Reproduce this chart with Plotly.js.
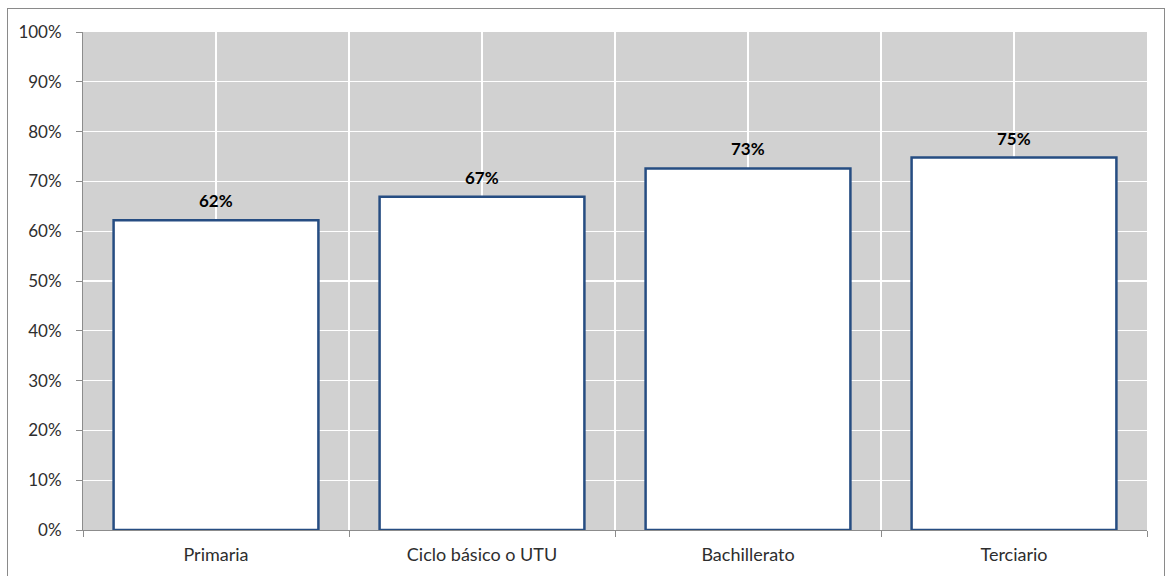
<!DOCTYPE html>
<html>
<head>
<meta charset="utf-8">
<script src="https://cdn.plot.ly/plotly-3.0.1.min.js"></script>
<style>
  html, body { margin: 0; padding: 0; background: #ffffff; }
  #wrap { position: relative; width: 1168px; height: 576px; }
  #chart { width: 1168px; height: 576px; }
  #frame {
    position: absolute; left: 7px; top: 8px; width: 1158px; height: 580px;
    border: 1px solid #8a8a8a; box-sizing: border-box; pointer-events: none;
  }
</style>
</head>
<body>
<div id="wrap">
  <div id="chart"></div>
  <div id="frame"></div>
</div>
<script>
// Share of each education level (as a fraction)
const levels = ['Primaria', 'Ciclo básico o UTU', 'Bachillerato', 'Terciario'];
const shares = [0.622, 0.669, 0.726, 0.748];
const yTickVals = [0, 0.1, 0.2, 0.3, 0.4, 0.5, 0.6, 0.7, 0.8, 0.9, 1.0];

const FONT = 'Lato, "Open Sans", sans-serif';
const AXIS_GRAY = '#8c8c8c';
const TEXT_GRAY = '#2e2e2e';

const bars = {
  type: 'bar',
  x: levels,
  y: shares,
  marker: { color: '#ffffff', line: { color: '#264d82', width: 2.5 } },
  hoverinfo: 'skip',
  showlegend: false
};

// invisible trace that carries the second category axis (gridlines at category centres)
const centreGrid = {
  type: 'scatter',
  mode: 'markers',
  x: levels,
  y: shares,
  xaxis: 'x2',
  yaxis: 'y',
  marker: { opacity: 0 },
  hoverinfo: 'skip',
  showlegend: false
};

// value labels above each bar
const labels = levels.map((lv, i) => ({
  x: lv,
  y: shares[i],
  xref: 'x',
  yref: 'y',
  text: Math.round(shares[i] * 100) + '%',
  showarrow: false,
  yanchor: 'bottom',
  yshift: 7,
  font: { family: FONT, size: 17, color: '#000000', weight: 'bold' }
}));

const layout = {
  width: 1168,
  height: 576,
  margin: { l: 83, r: 21, t: 32, b: 46 },
  paper_bgcolor: '#ffffff',
  plot_bgcolor: '#d1d1d1',
  bargap: 0.23,
  font: { family: FONT, size: 17, color: TEXT_GRAY },
  xaxis: {
    type: 'category',
    categoryarray: levels,
    range: [-0.5, levels.length - 0.5],
    tickson: 'boundaries',
    ticks: 'outside',
    ticklen: 6,
    tickcolor: AXIS_GRAY,
    showline: true,
    linecolor: AXIS_GRAY,
    linewidth: 1,
    showgrid: true,
    gridcolor: '#ffffff',
    gridwidth: 1.3,
    ticklabelstandoff: 8,
    tickfont: { family: FONT, size: 18, color: TEXT_GRAY },
    fixedrange: true
  },
  xaxis2: {
    type: 'category',
    categoryarray: levels,
    range: [-0.5, levels.length - 0.5],
    overlaying: 'x',
    side: 'bottom',
    showticklabels: false,
    ticks: '',
    showline: false,
    showgrid: true,
    gridcolor: '#ffffff',
    gridwidth: 1.3,
    zeroline: false,
    fixedrange: true
  },
  yaxis: {
    range: [0, 1],
    tickvals: yTickVals,
    tickformat: '.0%',
    ticks: 'outside',
    ticklen: 6,
    tickcolor: AXIS_GRAY,
    showline: true,
    linecolor: AXIS_GRAY,
    linewidth: 1,
    showgrid: true,
    gridcolor: '#ffffff',
    gridwidth: 1.3,
    zeroline: false,
    ticklabelstandoff: 11,
    tickfont: { family: FONT, size: 17, color: TEXT_GRAY },
    fixedrange: true
  },
  annotations: labels
};

Plotly.newPlot('chart', [centreGrid, bars], layout, { displayModeBar: false, staticPlot: true });
</script>
</body>
</html>
